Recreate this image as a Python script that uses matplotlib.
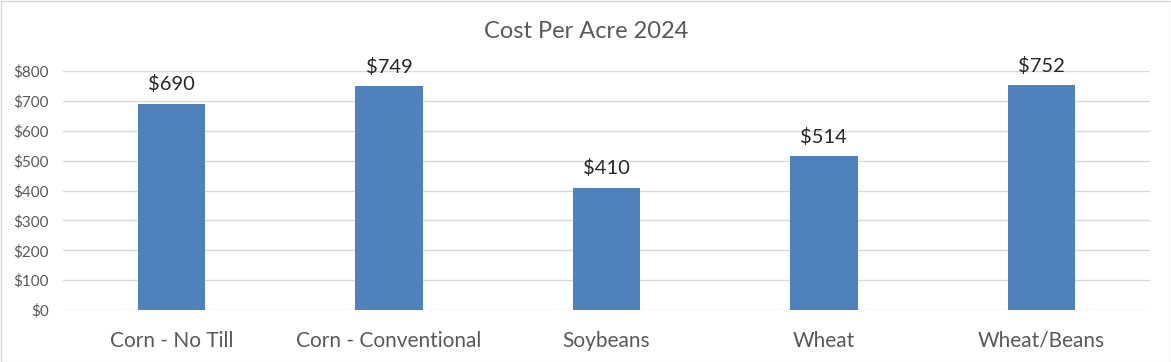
import matplotlib
matplotlib.use("Agg")
import matplotlib.pyplot as plt
from matplotlib.patches import Rectangle

categories = ["Corn - No Till", "Corn - Conventional", "Soybeans", "Wheat", "Wheat/Beans"]
values = [690, 749, 410, 514, 752]
yticks = [0, 100, 200, 300, 400, 500, 600, 700, 800]
title = "Cost Per Acre 2024"

plt.rcParams['font.family'] = ['Lato', 'DejaVu Sans']
text_color = "#595959"

fig = plt.figure(figsize=(11.71, 3.62), dpi=100)
ax = fig.add_axes([63/1171, 1-310/362, 1087/1171, 239/362])

x = list(range(len(categories)))
bars = ax.bar(x, values, width=0.31, color="#4F81BD", zorder=3)
ax.set_xlim(-0.5, len(categories)-0.5)
ax.set_ylim(0, 800)
ax.set_yticks(yticks)
ax.set_yticklabels([f"${v}" for v in yticks], fontsize=11, color=text_color)
ax.set_xticks(x)
ax.set_xticklabels(categories, fontsize=15, color=text_color)
ax.tick_params(axis='both', length=0)
ax.tick_params(axis='x', pad=15)
ax.tick_params(axis='y', pad=10)
ax.grid(axis='y', color="#D9D9D9", linewidth=1, zorder=0)
for s in ax.spines.values():
    s.set_visible(False)

for xi, v in zip(x, values):
    ax.annotate(f"${v}", (xi, v), xytext=(0, 7.5), textcoords='offset points',
                ha='center', va='bottom', fontsize=14.5, color="#262626")

fig.text(586/1171, 1-32/362, title, ha='center', va='center', fontsize=17, color=text_color)

fig.patches.append(Rectangle((0.5/1171, 0.5/362), 1-1/1171, 1-1/362, transform=fig.transFigure,
                             fill=False, edgecolor="#D9D9D9", linewidth=1))

fig.savefig("out.png", dpi=100)
